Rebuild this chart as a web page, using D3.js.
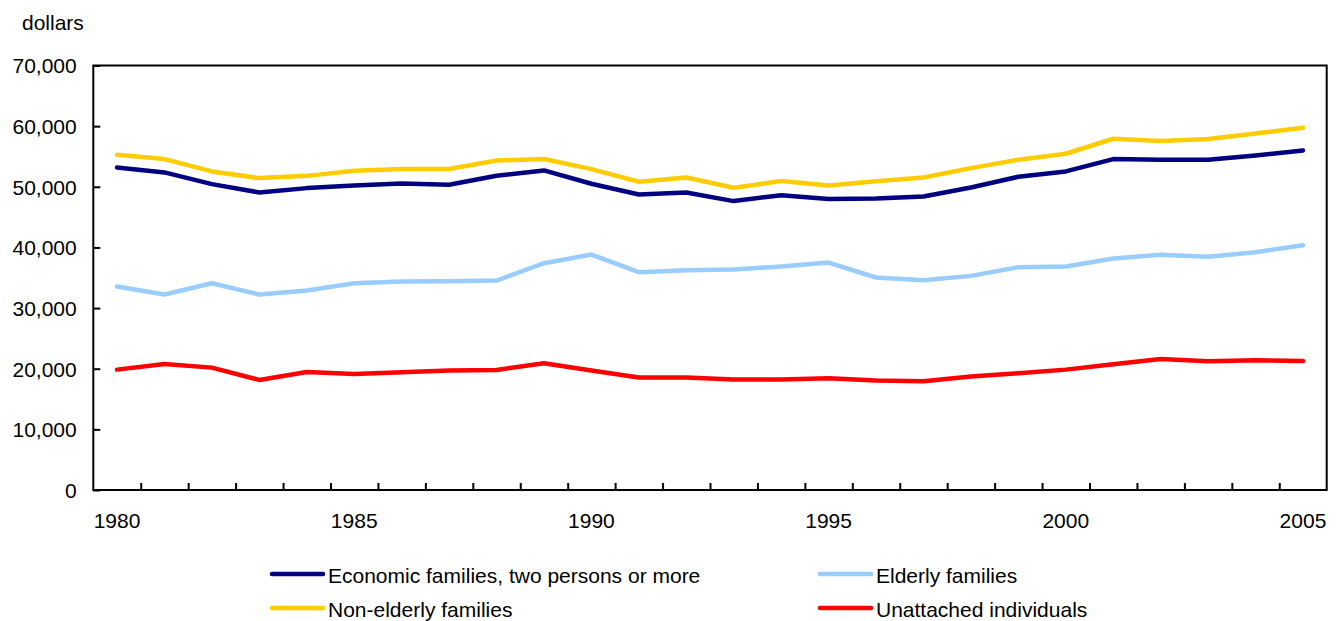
<!DOCTYPE html>
<html>
<head>
<meta charset="utf-8">
<script src="https://cdn.jsdelivr.net/npm/d3@7/dist/d3.min.js"></script>
<style>
  html, body { margin: 0; padding: 0; background: #fff; }
  svg { display: block; }
  text { font-family: "Liberation Sans", Arial, Helvetica, sans-serif; fill: #000; }
</style>
</head>
<body>
<svg id="chart" width="1337" height="621"></svg>
<script>
const years = d3.range(1980, 2006);
const yTicks = [0, 10000, 20000, 30000, 40000, 50000, 60000, 70000];
const xLabelYears = [1980, 1985, 1990, 1995, 2000, 2005];

const economicFamilies = [53190, 52370, 50440, 49060, 49780, 50220, 50550, 50330, 51820, 52700,
  50500, 48730, 49060, 47640, 48620, 47970, 48080, 48400, 49890, 51650,
  52530, 54570, 54460, 54460, 55170, 56000];
const nonElderlyFamilies = [55300, 54570, 52530, 51430, 51800, 52640, 52920, 52920, 54340, 54570,
  52920, 50830, 51540, 49830, 50940, 50220, 50900, 51540, 53080, 54460,
  55450, 57920, 57540, 57870, 58800, 59740];
const elderlyFamilies = [33550, 32230, 34100, 32230, 32900, 34100, 34380, 34440, 34540, 37400,
  38830, 35920, 36250, 36360, 36850, 37510, 35040, 34600, 35310, 36750,
  36850, 38170, 38780, 38450, 39220, 40370];
const unattachedIndividuals = [19850, 20790, 20180, 18150, 19470, 19140, 19420, 19690, 19800, 20900,
  19720, 18540, 18540, 18210, 18210, 18430, 18040, 17930, 18700, 19250,
  19850, 20740, 21620, 21230, 21400, 21290];

const seriesNames = ["Economic families, two persons or more", "Elderly families", "Non-elderly families", "Unattached individuals"];
const seriesColors = ["#000080", "#99CCFF", "#FFCC00", "#FF0000"];
const seriesValues = [economicFamilies, elderlyFamilies, nonElderlyFamilies, unattachedIndividuals];
const drawOrder = [1, 3, 0, 2];

const FS = 21;
const svg = d3.select("#chart");
const L = 93.3, R = 1326.7, T = 65.5, B = 490;

const x = d3.scaleBand().domain(years).range([L, R]).padding(0);
const xEdge = d3.scaleLinear().domain([1980, 2006]).range([L, R]);
const y = d3.scaleLinear().domain([0, 70000]).range([B, T]);

// y axis
const yAxis = d3.axisLeft(y).tickValues(yTicks).tickSizeInner(-7).tickSizeOuter(0).tickPadding(16.6)
  .tickFormat(d3.format(","));
const gy = svg.append("g").attr("transform", `translate(${L},0)`).call(yAxis);
gy.select(".domain").remove();
gy.selectAll("line").attr("stroke", "#000").attr("stroke-width", 2);
gy.selectAll("text").attr("font-size", FS).attr("font-family", '"Liberation Sans", Arial, sans-serif').attr("fill", "#000").attr("dy", "0.35em");

// x axis ticks (at band boundaries)
const xTickAxis = d3.axisBottom(xEdge).tickValues(d3.range(1981, 2006)).tickSizeInner(-7).tickSizeOuter(0).tickFormat("");
const gx = svg.append("g").attr("transform", `translate(0,${B})`).call(xTickAxis);
gx.select(".domain").remove();
gx.selectAll("line").attr("stroke", "#000").attr("stroke-width", 2);

// x labels
const xLabelAxis = d3.axisBottom(x).tickValues(xLabelYears).tickSize(0).tickPadding(23);
const gxl = svg.append("g").attr("transform", `translate(0,${B})`).call(xLabelAxis);
gxl.select(".domain").remove();
gxl.selectAll("text").attr("font-size", FS).attr("font-family", '"Liberation Sans", Arial, sans-serif').attr("fill", "#000");

// frame
svg.append("rect").attr("x", L).attr("y", T).attr("width", R - L).attr("height", B - T)
  .attr("fill", "none").attr("stroke", "#000").attr("stroke-width", 2);

// lines
const line = d3.line().x((d, i) => x(years[i]) + x.bandwidth() / 2).y(d => y(d));
drawOrder.forEach(k => {
  svg.append("path").datum(seriesValues[k]).attr("d", line)
    .attr("fill", "none").attr("stroke", seriesColors[k]).attr("stroke-width", 4.5)
    .attr("stroke-linejoin", "round").attr("stroke-linecap", "round");
});

// y unit label
svg.append("text").attr("x", 22).attr("y", 30).attr("font-size", FS).text("dollars");

// legend
const legendPos = [[272, 574], [820, 574], [272, 608], [820, 608]];
seriesNames.forEach((name, k) => {
  const [lx, ly] = legendPos[k];
  svg.append("line").attr("x1", lx).attr("x2", lx + 51).attr("y1", ly).attr("y2", ly)
    .attr("stroke", seriesColors[k]).attr("stroke-width", 4.5).attr("stroke-linecap", "round");
  svg.append("text").attr("x", lx + 56).attr("y", ly + 8.5).attr("font-size", FS).text(name);
});
</script>
</body>
</html>
